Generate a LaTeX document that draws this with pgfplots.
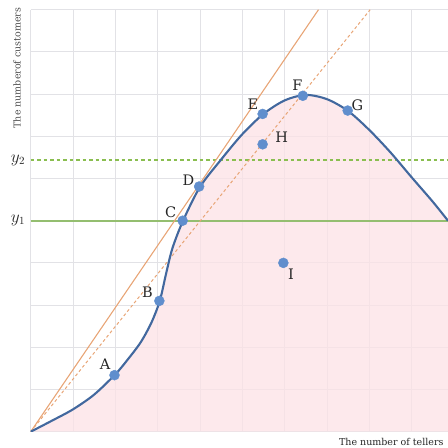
\documentclass[border=0pt]{standalone}
\usepackage{pgfplots}
\pgfplotsset{compat=1.18}
\usepackage{pgfplotstable}
\usepackage{fontspec}
\setmainfont{DejaVu Serif}
\definecolor{curveblue}{RGB}{66,104,158}
\definecolor{dotblue}{RGB}{96,142,205}
\definecolor{pinkfill}{RGB}{252,226,230}
\definecolor{lineorange}{RGB}{232,165,118}
\definecolor{greenline}{RGB}{148,190,112}
\definecolor{greendash}{RGB}{138,190,80}
\definecolor{gridgray}{RGB}{226,226,230}
\definecolor{labelgray}{RGB}{80,80,80}

% curve (tellers, customers)
\pgfplotstableread{
x     y
0     0
0.5   0.26
1.0   0.53
1.5   0.88
2.0   1.36
2.3   1.72
2.6   2.12
2.85  2.58
3.05  3.10
3.2   3.75
3.35  4.35
3.6   5.00
4.0   5.80
4.5   6.45
5.0   7.05
5.5   7.53
6.0   7.85
6.5   7.98
7.0   7.88
7.5   7.60
8.0   7.15
8.5   6.62
9.0   6.03
9.5   5.45
9.86  5.00
}\curvedata

% marked points A..I
\pgfplotstableread{
x     y
1.98  1.34
3.04  3.10
3.59  5.00
3.98  5.81
5.48  7.53
6.43  7.96
7.49  7.61
5.48  6.81
5.97  4.00
}\pointdata

\begin{document}
\begin{tikzpicture}[x=1pt,y=1pt]
\clip (0,0) rectangle (448,448);
\begin{axis}[
  at={(30.7pt,16.3pt)}, anchor=south west,
  scale only axis, width=417.3pt, height=422pt,
  xmin=0, xmax=9.86, ymin=0, ymax=10,
  xtick={0,...,10}, ytick={0,...,10},
  xticklabels={}, yticklabels={},
  major tick length=0pt,
  grid=major, grid style={draw=gridgray, line width=0.9pt},
  axis line style={draw=none},
]
\addplot[draw=none, fill=pinkfill, fill opacity=0.75, smooth, tension=0.5]
  table[x=x,y=y] {\curvedata} \closedcycle;
\addplot[greenline, line width=1.7pt] coordinates {(0,5) (9.86,5)};
\addplot[greendash, line width=1.3pt, dash pattern=on 3.5pt off 3pt] coordinates {(0,6.44) (9.86,6.44)};
\addplot[lineorange, line width=1.1pt] coordinates {(0,0) (6.8,10)};
\addplot[lineorange, line width=1.0pt, dash pattern=on 3pt off 2.5pt] coordinates {(0,0) (8.02,10)};
\addplot[curveblue, line width=2.1pt, smooth, tension=0.5] table[x=x,y=y] {\curvedata};
\addplot[only marks, mark=*, mark size=5pt, color=dotblue, mark options={draw=none}]
  table[x=x,y=y] {\pointdata};
\begin{scope}[every node/.style={font=\fontsize{14.5}{14.5}\selectfont, text=black!85}]
\node at (axis cs:1.76,1.60) {A};
\node at (axis cs:2.76,3.30) {B};
\node at (axis cs:3.31,5.20) {C};
\node at (axis cs:3.73,5.96) {D};
\node at (axis cs:5.25,7.77) {E};
\node at (axis cs:6.30,8.22) {F};
\node at (axis cs:7.72,7.74) {G};
\node at (axis cs:5.93,6.97) {H};
\node at (axis cs:6.15,3.73) {I};
\end{scope}
\end{axis}
\node[rotate=90, font=\fontsize{9.5}{10}\selectfont, text=labelgray] at (17,380) {The numberof customers};
\node[font=\fontsize{16}{16}\selectfont, text=black!85] at (18,288) {$y_2$};
\node[font=\fontsize{16}{16}\selectfont, text=black!85] at (18,228) {$y_1$};
\node[anchor=east, font=\fontsize{9.5}{10}\selectfont, text=black!85] at (447,6) {The number of tellers};
\end{tikzpicture}
\end{document}
